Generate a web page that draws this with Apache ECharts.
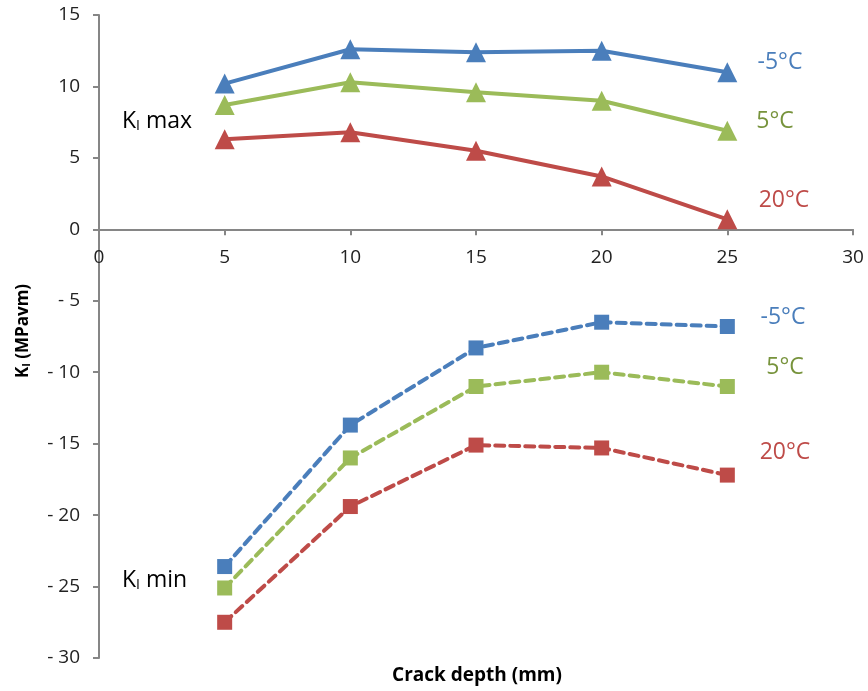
<!DOCTYPE html>
<html>
<head>
<meta charset="utf-8">
<script src="https://cdn.jsdelivr.net/npm/echarts@6/dist/echarts.min.js"></script>
<style>
  html, body { margin: 0; padding: 0; background: #fff; }
  #chart { width: 868px; height: 691px; }
</style>
</head>
<body>
<div id="chart"></div>
<script>
// Crack depth (mm)
const depths = [5, 10, 15, 20, 25];

// Maximum stress intensity factor K_I max (MPa√m)
const kmaxMinus5 = [10.2, 12.6, 12.4, 12.5, 11.0];
const kmax5 = [8.7, 10.3, 9.6, 9.0, 6.9];
const kmax20 = [6.3, 6.8, 5.5, 3.7, 0.7];

// Minimum stress intensity factor K_I min (MPa√m)
const kminMinus5 = [-23.6, -13.7, -8.3, -6.5, -6.8];
const kmin5 = [-25.1, -16.0, -11.0, -10.0, -11.0];
const kmin20 = [-27.5, -19.4, -15.1, -15.3, -17.2];

const xTicks = [0, 5, 10, 15, 20, 25, 30];
const yTicks = [-30, -25, -20, -15, -10, -5, 0, 5, 10, 15];

const BLUE = '#4a7ebb';
const GREEN = '#9bbb59';
const RED = '#be4b48';
const FONT = '"Open Sans", "Noto Sans", sans-serif';

// grid geometry
const GRID_TOP = 15, GRID_H = 643;
const yMin = yTicks[0], yMax = yTicks[yTicks.length - 1];
// the x axis sits on y = 0: shift it up from the bottom of the grid
const xAxisOffset = -GRID_H * (0 - yMin) / (yMax - yMin);

function pairs(vals) { return depths.map((d, i) => [d, vals[i]]); }

function maxSeries(name, vals, color) {
  return {
    name, type: 'line', data: pairs(vals),
    symbol: 'triangle', symbolSize: 20,
    itemStyle: { color },
    lineStyle: { color, width: 4 },
    z: 3
  };
}
function minSeries(name, vals, color) {
  return {
    name, type: 'line', data: pairs(vals),
    symbol: 'rect', symbolSize: 15,
    itemStyle: { color },
    lineStyle: { color, width: 4, type: [9, 6], cap: 'round' },
    z: 3
  };
}

const chart = echarts.init(document.getElementById('chart'));

const tempLabel = (text, x, y, color) => ({
  type: 'text', x, y,
  style: { text, fill: color, font: '23px ' + FONT, align: 'center', verticalAlign: 'middle' }
});
const kLabel = (suffix, x, y) => ({
  type: 'text', x, y,
  style: {
    text: '{k|K}{s|I}{k| ' + suffix + '}',
    align: 'left', verticalAlign: 'middle',
    rich: {
      k: { fontSize: 23, fontFamily: FONT, fill: '#000' },
      s: { fontSize: 14, fontFamily: FONT, fill: '#000', padding: [11, 0, 0, 0] }
    }
  }
});

chart.setOption({
  animation: false,
  backgroundColor: '#fff',
  grid: { left: 99, top: GRID_TOP, width: 754, height: GRID_H, containLabel: false },
  xAxis: {
    type: 'value', min: xTicks[0], max: xTicks[xTicks.length - 1], interval: 5,
    position: 'bottom', offset: xAxisOffset,
    axisLine: { onZero: false, lineStyle: { color: '#868686', width: 2 } },
    axisTick: { show: true, length: 6, lineStyle: { color: '#868686', width: 2 } },
    axisLabel: { color: '#222', fontSize: 19, fontFamily: FONT, margin: 19 },
    splitLine: { show: false }
  },
  yAxis: {
    type: 'value', min: yMin, max: yMax, interval: 5,
    axisLine: { show: true, onZero: false, lineStyle: { color: '#868686', width: 2 } },
    axisTick: { show: true, length: 6, lineStyle: { color: '#868686', width: 2 } },
    axisLabel: {
      color: '#222', fontSize: 19, fontFamily: FONT, margin: 19,
      formatter: v => v < 0 ? '- ' + Math.abs(v) : String(v)
    },
    splitLine: { show: false }
  },
  series: [
    maxSeries('-5°C max', kmaxMinus5, BLUE),
    maxSeries('5°C max', kmax5, GREEN),
    maxSeries('20°C max', kmax20, RED),
    minSeries('-5°C min', kminMinus5, BLUE),
    minSeries('5°C min', kmin5, GREEN),
    minSeries('20°C min', kmin20, RED)
  ],
  graphic: [
    tempLabel('-5°C', 780, 62, '#4a7ebb'),
    tempLabel('5°C', 775, 121, '#77933c'),
    tempLabel('20°C', 784, 200, '#be4b48'),
    tempLabel('-5°C', 783, 317, '#4a7ebb'),
    tempLabel('5°C', 785, 367, '#77933c'),
    tempLabel('20°C', 785, 452, '#be4b48'),
    kLabel('max', 122, 121),
    kLabel('min', 122, 580),
    {
      type: 'text', x: 23, y: 331, rotation: Math.PI / 2,
      style: {
        text: '{k|K}{s|I}{k| (MPavm)}',
        align: 'center', verticalAlign: 'middle',
        rich: {
          k: { fontSize: 17, fontWeight: 'bold', fontFamily: FONT, fill: '#000' },
          s: { fontSize: 11, fontWeight: 'bold', fontFamily: FONT, fill: '#000', padding: [8, 0, 0, 0] }
        }
      }
    },
    {
      type: 'text', x: 477, y: 676,
      style: {
        text: 'Crack depth (mm)', fill: '#000',
        font: 'bold 19px ' + FONT, align: 'center', verticalAlign: 'middle'
      }
    }
  ]
});
</script>
</body>
</html>
